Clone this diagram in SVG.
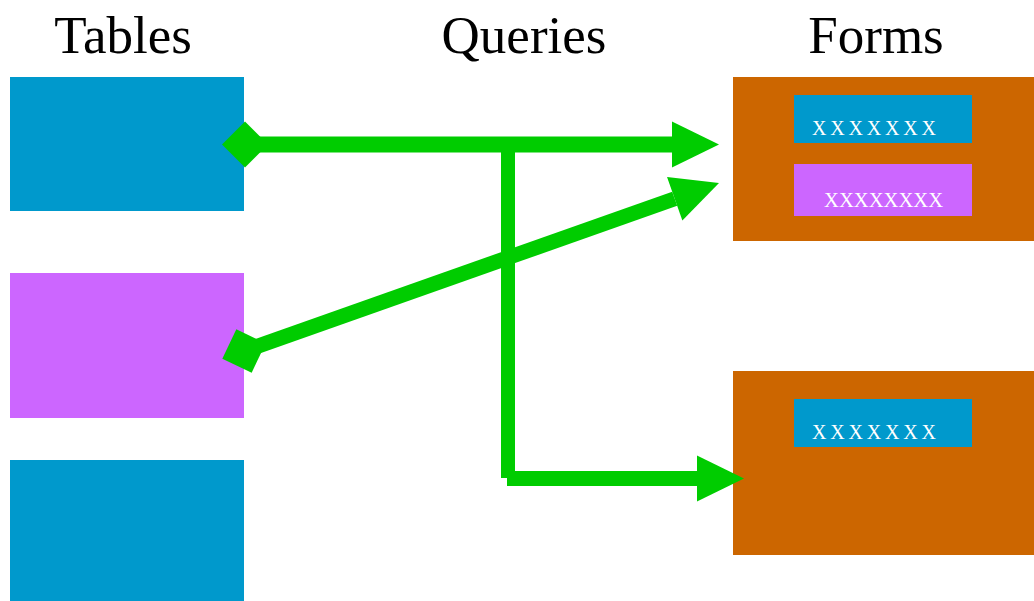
<svg xmlns="http://www.w3.org/2000/svg" width="1034" height="601" viewBox="0 0 1034 601">
  <style>
    .title { font-family: "Liberation Serif", "Times New Roman", serif; font-size: 53px; fill: #000; text-anchor: middle; }
    .field { font-family: "Liberation Serif", "Times New Roman", serif; font-size: 20px; fill: #fff; }
    .blue { fill: #0099CC; }
    .purple { fill: #CC66FF; }
    .form { fill: #CC6600; }
    .link { fill: none; stroke: #00CC00; stroke-linecap: butt; }
  </style>
  <defs>
    <marker id="arrow" viewBox="0 -23 47 46" refX="0" refY="0" markerWidth="47" markerHeight="46" markerUnits="userSpaceOnUse" orient="auto" overflow="visible">
      <path d="M0,-23 L47,0 L0,23 Z" fill="#00CC00"/>
    </marker>
    <marker id="diamond" viewBox="-23 -23 46 46" refX="0" refY="0" markerWidth="46" markerHeight="46" markerUnits="userSpaceOnUse" orient="auto" overflow="visible">
      <path d="M-23,0 L0,-23 L23,0 L0,23 Z" fill="#00CC00"/>
    </marker>
  </defs>

  <!-- column headings -->
  <g id="headings">
    <text class="title" x="123" y="53">Tables</text>
    <text class="title" x="524" y="53">Queries</text>
    <text class="title" x="876" y="53">Forms</text>
  </g>

  <!-- tables -->
  <g id="table1"><rect class="blue" x="10" y="77" width="234" height="134"/></g>
  <g id="table2"><rect class="purple" x="10" y="273" width="234" height="145"/></g>
  <g id="table3"><rect class="blue" x="10" y="460" width="234" height="141"/></g>

  <!-- forms -->
  <g id="form1">
    <rect class="form" x="733" y="77" width="301" height="164"/>
    <rect class="blue" x="794" y="95" width="178" height="48"/>
    <text class="field" x="812" y="135" textLength="124" lengthAdjust="spacing">XXXXXXX</text>
    <rect class="purple" x="794" y="164" width="178" height="52"/>
    <text class="field" x="824" y="207" textLength="119" lengthAdjust="spacingAndGlyphs">XXXXXXXX</text>
  </g>
  <g id="form2">
    <rect class="form" x="733" y="371" width="301" height="184"/>
    <rect class="blue" x="794" y="399" width="178" height="48"/>
    <text class="field" x="812" y="439" textLength="124" lengthAdjust="spacing">XXXXXXX</text>
  </g>

  <!-- connectors -->
  <g id="connectors">
    <path class="link" d="M245,144.5 H672" stroke-width="16" marker-start="url(#diamond)" marker-end="url(#arrow)"/>
    <path class="link" d="M244,351 L674.7,198.7" stroke-width="15" marker-start="url(#diamond)" marker-end="url(#arrow)"/>
    <path class="link" d="M508,144 V478" stroke-width="14"/>
    <path class="link" d="M507,478.5 H697" stroke-width="15" marker-end="url(#arrow)"/>
  </g>
</svg>
